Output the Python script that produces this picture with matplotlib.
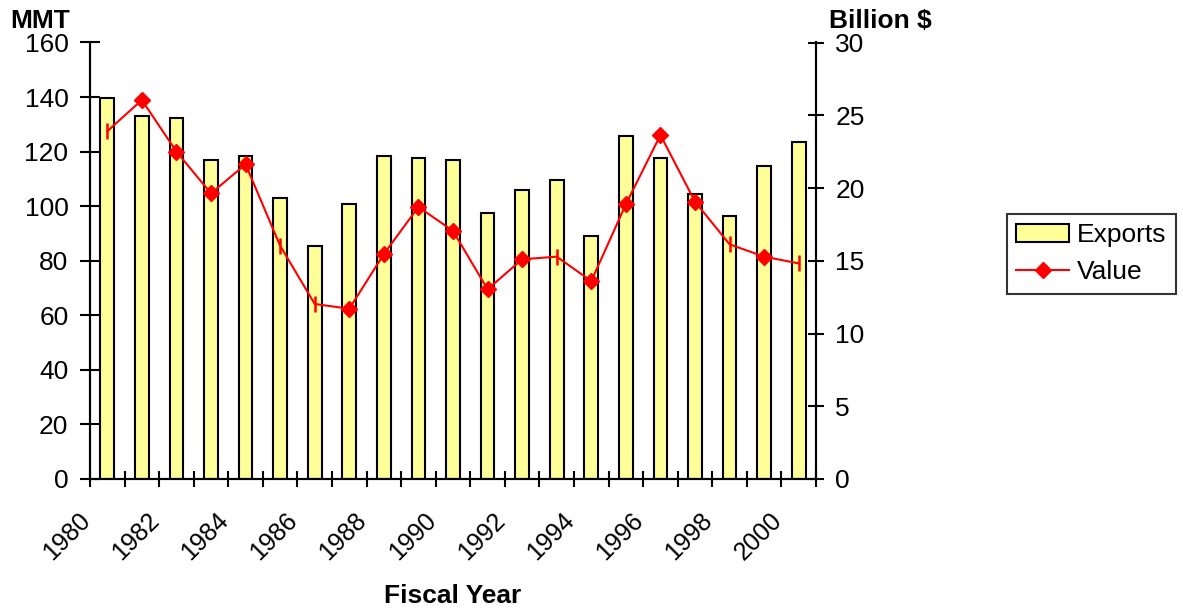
import matplotlib
matplotlib.use("Agg")
import matplotlib.pyplot as plt
import numpy as np
from matplotlib.lines import Line2D
from matplotlib.patches import Patch

plt.rcParams['font.family'] = ['Liberation Sans', 'DejaVu Sans']

years = list(range(1980, 2001))
exports = [139.7, 133.2, 132.4, 116.9, 118.4, 103.1, 85.5, 100.8, 118.4, 117.7, 116.9,
           97.4, 105.9, 109.6, 89.1, 125.8, 117.8, 104.6, 96.5, 114.8, 123.6]
value = [23.9, 26.05, 22.5, 19.63, 21.63, 16.03, 12.03, 11.7, 15.46, 18.7, 17.05,
         13.04, 15.1, 15.28, 13.6, 18.88, 23.64, 19.06, 16.13, 15.28, 14.82]
# marker style of each Value point as drawn in the reference
marker_kind = ['|', 'D', 'D', 'D', 'D', '|', '|', 'D', 'D', 'D', 'D',
               'D', 'D', '|', 'D', 'D', 'D', 'D', '|', 'D', '|']

FS = 19

fig = plt.figure(figsize=(11.83, 6.14), dpi=100)
ax = fig.add_axes([90/1183, 1-479/614, (816-90)/1183, (479-42.5)/614])
ax2 = ax.twinx()

x = np.arange(len(years))
ax.bar(x, exports, width=0.4, color='#FFFF99', edgecolor='black', linewidth=1.5, zorder=2)
ax.set_ylim(0, 160)
ax.set_yticks(np.arange(0, 161, 20))

ax2.plot(x, value, color='#FF0000', linewidth=1.5, zorder=3)
vals = np.array(value)
idx_d = [i for i, k in enumerate(marker_kind) if k == 'D']
idx_l = [i for i, k in enumerate(marker_kind) if k == '|']
ax2.plot(x[idx_d], vals[idx_d], linestyle='none', marker='D', markersize=8.5,
         color='#FF0000', markeredgecolor='#FF0000', zorder=4)
ax2.plot(x[idx_l], vals[idx_l], linestyle='none', marker='|', markersize=11,
         markeredgewidth=1.8, color='#FF0000', zorder=4)
ax2.set_ylim(0, 30)
ax2.set_yticks(np.arange(0, 31, 5))

# x ticks at category boundaries; year labels for even years (placed as in the reference)
ax.set_xticks(np.arange(-0.5, len(years), 1.0))
ax.set_xticklabels([])
ax.set_xlim(-0.5, len(years) - 0.5)
for i, y in enumerate(years):
    if y % 2 == 0:
        ax.annotate(str(y), xy=(i, 0), xycoords=('data', 'axes fraction'),
                    xytext=(-15, -27), textcoords='offset points',
                    rotation=45, rotation_mode='anchor', ha='right', va='center',
                    fontsize=18, annotation_clip=False)
ax.tick_params(axis='x', which='major', direction='inout', length=12, width=1.5)
ax.tick_params(axis='y', direction='inout', length=15, width=1.5, labelsize=FS, pad=8)
ax2.tick_params(axis='y', direction='inout', length=12, width=1.5, labelsize=FS, pad=8)

for a in (ax, ax2):
    a.spines['top'].set_visible(False)
    for s in ['left', 'right', 'bottom']:
        a.spines[s].set_linewidth(1.5)
ax.patch.set_visible(False)
ax2.set_zorder(ax.get_zorder() + 1)

fig.text(10/1183, 1-28/614, 'MMT', fontsize=FS, fontweight='bold', ha='left', va='baseline')
fig.text(829/1183, 1-28/614, 'Billion $', fontsize=FS, fontweight='bold', ha='left', va='baseline')
fig.text(453/1183, 1-603/614, 'Fiscal Year', fontsize=FS, fontweight='bold', ha='center', va='baseline')

handles = [Patch(facecolor='#FFFF99', edgecolor='black', linewidth=1.5),
           Line2D([0], [0], color='#FF0000', linewidth=1.5, marker='D', markersize=8.5)]
leg = fig.legend(handles, ['Exports', 'Value'], loc='upper left',
                 bbox_to_anchor=(1007/1183, 1-214/614), fontsize=FS, frameon=True,
                 fancybox=False, edgecolor='black', handlelength=2.0, borderaxespad=0,
                 handletextpad=0.3, labelspacing=0.5, borderpad=0.35)
leg.get_frame().set_linewidth(1.5)

fig.savefig('out.png', dpi=100)
